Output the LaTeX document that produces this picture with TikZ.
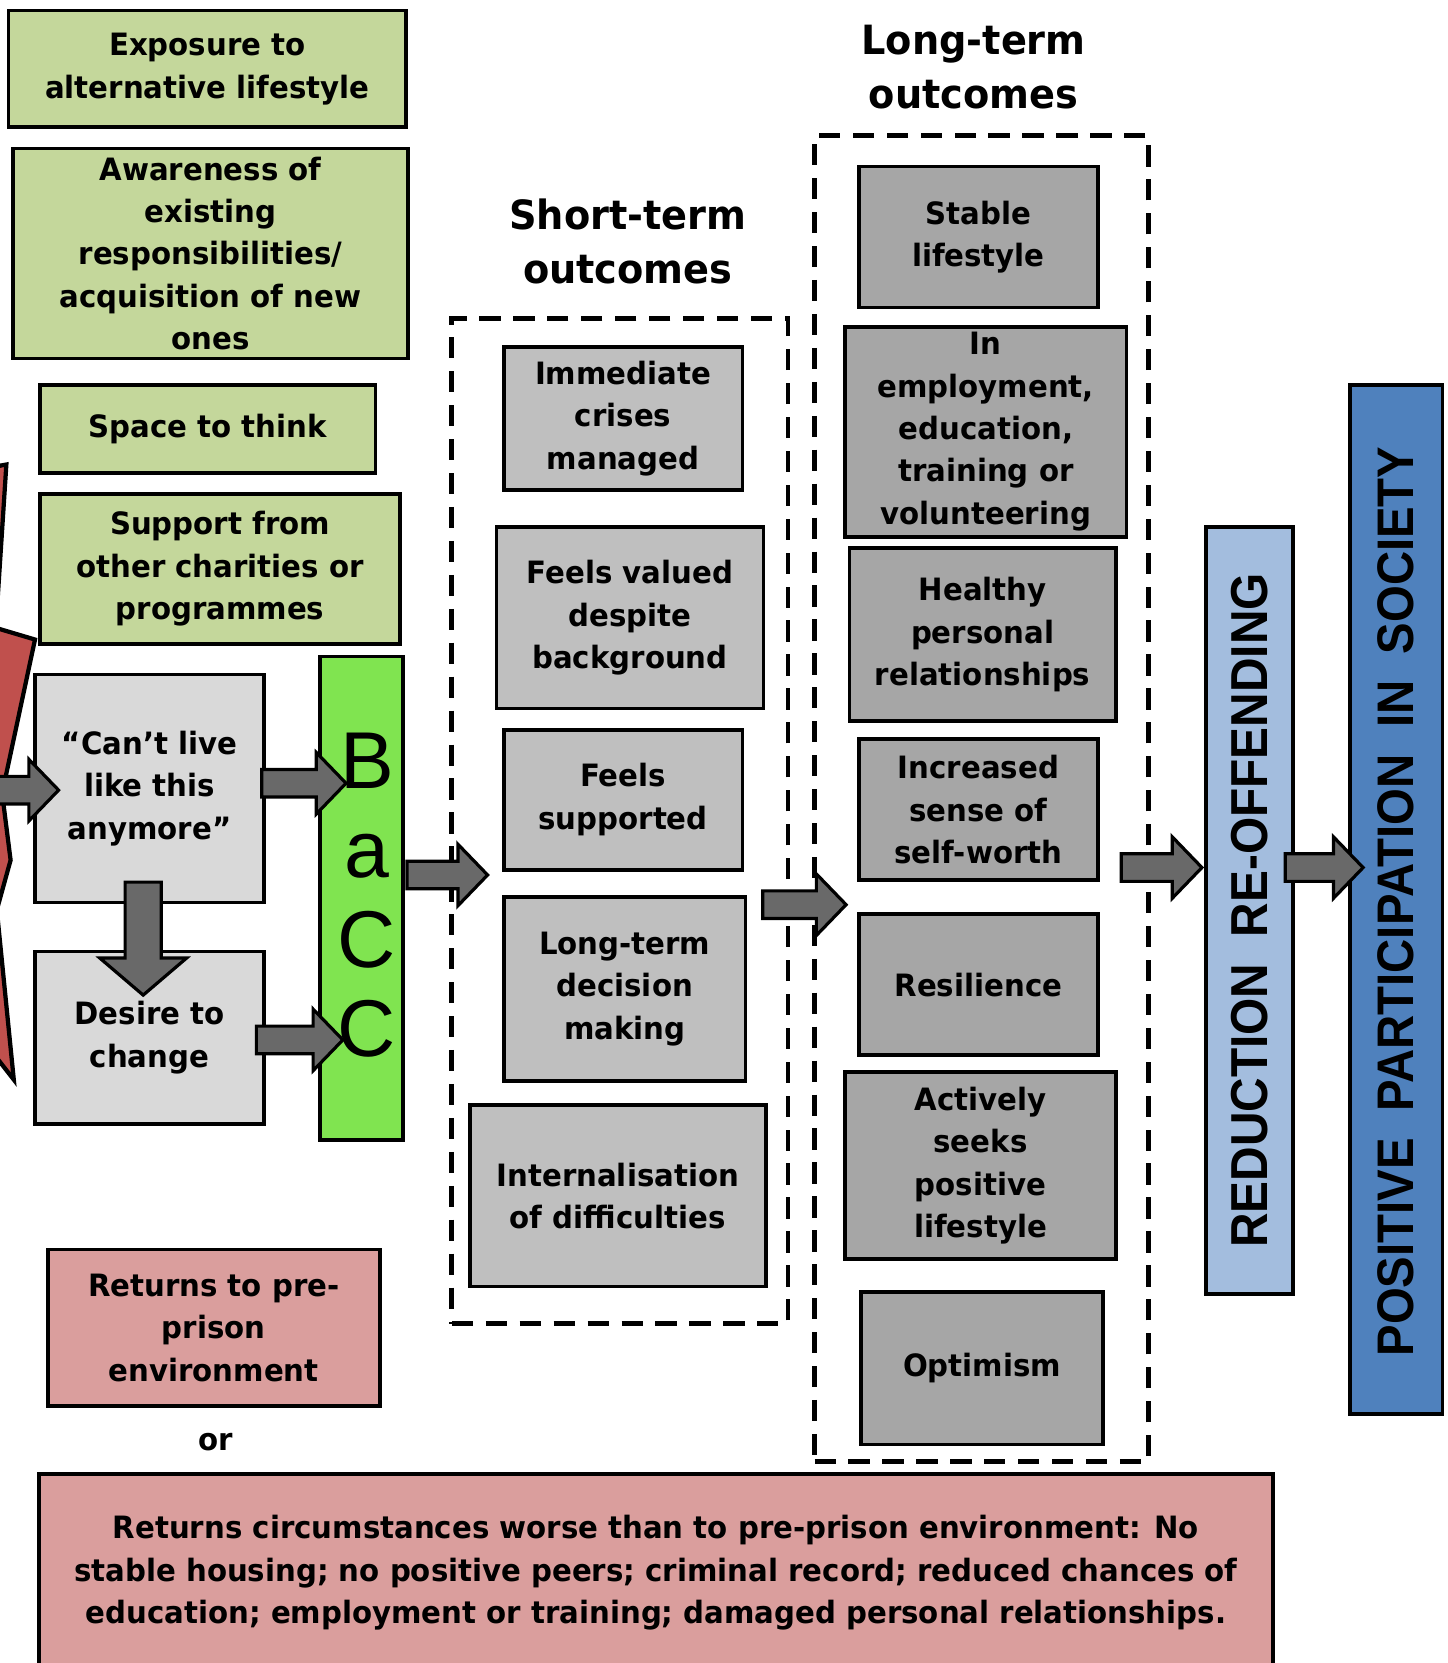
\documentclass[tikz,border=0pt]{standalone}
\usepackage{fontspec}
\setmainfont{DejaVu Sans}[FakeStretch=0.95]
\newfontfamily\capsfamily{Liberation Sans}[FakeStretch=0.92]
\newfontfamily\letterfamily{Liberation Sans}
\usetikzlibrary{calc}

\definecolor{olivebox}{RGB}{196,215,155}
\definecolor{palegray}{RGB}{217,217,217}
\definecolor{shortgray}{RGB}{191,191,191}
\definecolor{longgray}{RGB}{166,166,166}
\definecolor{baccgreen}{RGB}{128,228,80}
\definecolor{paleblue}{RGB}{163,189,222}
\definecolor{deepblue}{RGB}{79,129,189}
\definecolor{rosebox}{RGB}{218,158,157}
\definecolor{boltred}{RGB}{192,80,77}
\definecolor{arrowgray}{RGB}{105,105,105}

\newcommand{\cellfont}{\fontsize{29}{40}\selectfont\bfseries}
\newcommand{\titlefont}{\fontsize{38}{51}\selectfont\bfseries}
\newcommand{\letterfont}{\letterfamily\fontsize{76}{84}\selectfont}

\tikzset{
  cell/.style={draw=black, line width=3.5pt, inner sep=0pt, align=center, font=\cellfont},
  greencell/.style={cell, fill=olivebox},
  lightcell/.style={cell, fill=palegray},
  shortcell/.style={cell, fill=shortgray},
  longcell/.style={cell, fill=longgray},
  rosecell/.style={cell, fill=rosebox},
  bacccell/.style={cell, fill=baccgreen},
  frame/.style={draw=black, line width=4.5pt, dash pattern=on 20pt off 12pt, inner sep=0pt},
  blockarrow/.style={draw=black, fill=arrowgray, line width=3pt},
  bolt/.style={draw=black, fill=boltred, line width=4pt, line join=miter},
}

% fat arrow to the right, at the height of #1, tip at #2
\newcommand{\rarrow}[2]{%
  \draw[blockarrow] let \p1=#1, \p2=#2 in
    ({\x1},{\y1+13pt}) -- ({\x2-28pt},{\y1+13pt}) -- ({\x2-28pt},{\y1+29pt}) -- ({\x2},{\y1})
    -- ({\x2-28pt},{\y1-29pt}) -- ({\x2-28pt},{\y1-13pt}) -- ({\x1},{\y1-13pt}) -- cycle;}
% fat arrow downwards
\newcommand{\darrow}[2]{%
  \draw[blockarrow] let \p1=#1, \p2=#2 in
    ({\x1-17pt},{\y1}) -- ({\x1-17pt},{\y2+35pt}) -- ({\x1-41pt},{\y2+35pt}) -- ({\x1},{\y2})
    -- ({\x1+41pt},{\y2+35pt}) -- ({\x1+17pt},{\y2+35pt}) -- ({\x1+17pt},{\y1}) -- cycle;}

\begin{document}
\begin{tikzpicture}[x=1pt, y=-1pt]
	\useasboundingbox (0,0) rectangle (1365,1568);
	\clip (0,0) rectangle (1365,1568);

	% bolt, cut by the left edge
	\draw[bolt] (6,438) -- (-4,592) -- (33,603) -- (2,748) -- (10,811) -- (-3,858)
		-- (13,1018) -- (-40,950) -- (-60,450) -- cycle;

	% what helps
	\node[greencell, minimum width=375, minimum height=110] (expose) at (195.5, 65) {Exposure to\\alternative lifestyle};
	\node[greencell, minimum width=373, minimum height=198] (aware) at (198.5, 239) {Awareness of\\existing\\responsibilities/\\acquisition of new\\ones};
	\node[greencell, minimum width=316, minimum height=83] (space) at (196, 404.5) {Space to think};
	\node[greencell, minimum width=339, minimum height=141] (support) at (207.5, 536.5) {Support from\\other charities or\\programmes};

	\node[lightcell, minimum width=216, minimum height=215] (cant) at (141, 743.5) {“Can’t live\\like this\\anymore”};
	\node[lightcell, minimum width=216, minimum height=163] (desire) at (141, 978.5) {Desire to\\change};

	\node[bacccell, minimum width=78, minimum height=456] (bacc) at (341, 847) {};
	\node[font=\letterfont, align=center, inner sep=0pt] (bacctext) at (346, 844) {B\\a\\C\\C};

	% short-term
	\node[font=\titlefont, align=center] (sttitle) at (592, 228) {Short-term\\outcomes};
	\node[frame, minimum width=317, minimum height=948] (stframe) at (584.5, 774) {};

	\node[shortcell, minimum width=225, minimum height=135] (crises) at (587.5, 394.5) {Immediate\\crises\\managed};
	\node[shortcell, minimum width=252, minimum height=171] (valued) at (594, 582.5) {Feels valued\\despite\\background};
	\node[shortcell, minimum width=225, minimum height=132] (supported) at (587.5, 754) {Feels\\supported};
	\node[shortcell, minimum width=228, minimum height=173] (decision) at (589, 932.5) {Long-term\\decision\\making};
	\node[shortcell, minimum width=279, minimum height=171] (internal) at (582.5, 1127.5) {Internalisation\\of difficulties};

	% long-term
	\node[font=\titlefont, align=center] (lttitle) at (918, 63) {Long-term\\outcomes};
	\node[frame, minimum width=315, minimum height=1250] (ltframe) at (925.5, 753) {};

	\node[longcell, minimum width=225, minimum height=133] (stable) at (922.5, 223.5) {Stable\\lifestyle};
	\node[longcell, minimum width=265, minimum height=198] (employ) at (929.5, 407) {In\\employment,\\education,\\training or\\volunteering};
	\node[longcell, minimum width=251, minimum height=163] (healthy) at (926.5, 598.5) {Healthy\\personal\\relationships};
	\node[longcell, minimum width=225, minimum height=133] (worth) at (922.5, 763.5) {Increased\\sense of\\self-worth};
	\node[longcell, minimum width=225, minimum height=133] (resil) at (922.5, 928.5) {Resilience};
	\node[longcell, minimum width=255, minimum height=176] (seeks) at (924.5, 1099) {Actively\\seeks\\positive\\lifestyle};
	\node[longcell, minimum width=228, minimum height=144] (optim) at (926, 1290) {Optimism};

	% aims
	\node[cell, fill=paleblue, minimum width=82, minimum height=723] (reduce) at (1178, 858.5) {};
	\node[rotate=90, font={\capsfamily\bfseries\fontsize{49}{49}\selectfont}] (reducetext) at (reduce) {REDUCTION~~RE-OFFENDING};
	\node[cell, fill=deepblue, minimum width=87, minimum height=970] (society) at (1316.5, 848) {};
	\node[rotate=90, font={\capsfamily\bfseries\fontsize{48.5}{48.5}\selectfont}] (societytext) at ($(society)+(0,2)$) {POSITIVE~~PARTICIPATION~~IN~~SOCIETY};

	% the other way
	\node[rosecell, minimum width=313, minimum height=148] (returns) at (201.5, 1252) {Returns to pre-\\prison\\environment};
	\node[font=\cellfont] (or) at (203, 1360) {or};
	\node[rosecell, minimum width=1163, minimum height=186] (worse) at (618.5, 1483) {Returns circumstances worse than to pre-prison environment: No\\stable housing; no positive peers; criminal record; reduced chances of\\education; employment or training; damaged personal relationships.};

	% arrows
	\coordinate (edge) at (-6, 745);
	\rarrow{(edge)}{($(cant.west)+(24,0)$)}
	\rarrow{($(cant.east)+(-4,-5)$)}{($(bacc.west)+(26,0)$)}
	\rarrow{($(desire.east)+(-9,2)$)}{($(bacc.west)+(23,0)$)}
	\darrow{($(cant.south)+(-6,-21)$)}{($(desire.north)+(0,43)$)}
	\rarrow{($(bacc.east)+(2,-22)$)}{($(stframe.west)+(36,0)$)}
	\rarrow{($(stframe.east)+(-26,79)$)}{($(ltframe.west)+(32,0)$)}
	\rarrow{($(ltframe.east)+(-28,65)$)}{($(reduce.west)+(-2,0)$)}
	\rarrow{($(reduce.east)+(-9,-40.5)$)}{($(society.west)+(14,0)$)}

\end{tikzpicture}
\end{document}
